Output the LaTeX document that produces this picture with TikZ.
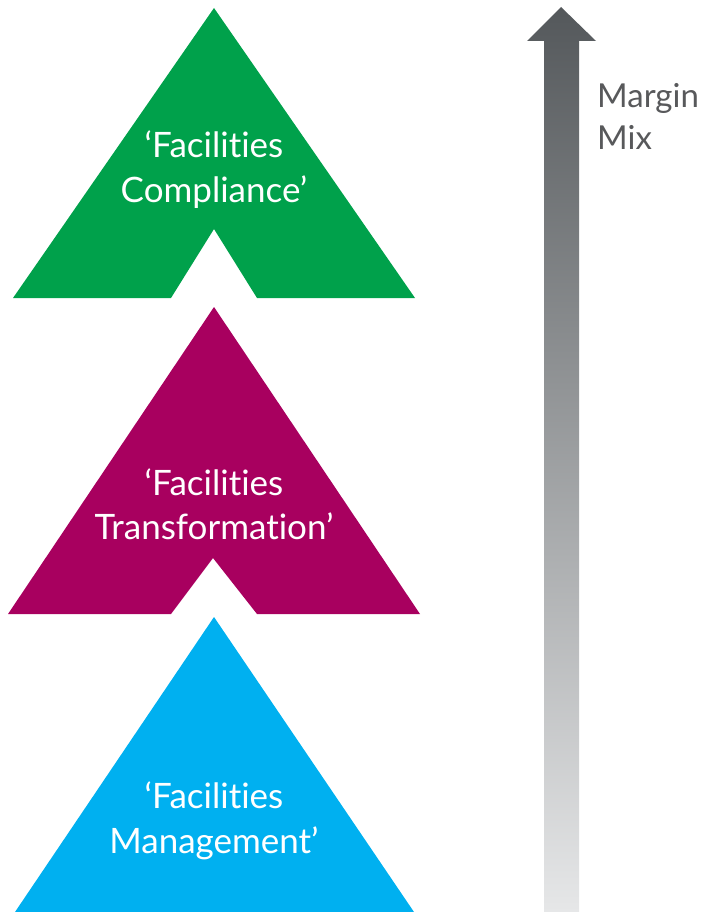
\documentclass[tikz,border=0pt]{standalone}
\usepackage{fontspec}
\setmainfont{Lato}[Ligatures={NoCommon,NoRare}]
\definecolor{tierGreen}{HTML}{00A14B}
\definecolor{tierMagenta}{HTML}{A8005F}
\definecolor{tierBlue}{HTML}{00B0F0}
\definecolor{arrowTop}{HTML}{54585B}
\definecolor{arrowBottom}{HTML}{E6E7E8}
\definecolor{labelGray}{HTML}{58595B}
\begin{document}
\begin{tikzpicture}[x=1pt,y=-1pt,
  tierlabel/.style={text=white,anchor=base,inner sep=0pt,font=\fontsize{35}{42}\selectfont},
  sidelabel/.style={text=labelGray,anchor=base west,inner sep=0pt,font=\fontsize{33}{40}\selectfont}]
\useasboundingbox (0,0) rectangle (703,912);

% top tier: notched triangle
\fill[tierGreen] (214,8) -- (415,298) -- (257,298) -- (214,229) -- (171,298) -- (13,298) -- cycle;
% middle tier: notched triangle
\fill[tierMagenta] (214,307) -- (420,614) -- (257,614) -- (213,558) -- (171,614) -- (8,614) -- cycle;
% bottom tier: plain triangle
\fill[tierBlue] (214,617) -- (414,912) -- (15,912) -- cycle;

\node[tierlabel] (c1) at (214,158) {‘Facilities};
\node[tierlabel] (c2) at (214,202) {Compliance’};
\node[tierlabel] (t1) at (214,495) {‘Facilities};
\node[tierlabel] (t2) at (214,539) {Transformation’};
\node[tierlabel] (m1) at (214,808) {‘Facilities};
\node[tierlabel] (m2) at (214,853) {Management’};

% shaded upward arrow
\shade[top color=arrowTop,bottom color=arrowBottom]
  (561,7) -- (596,41) -- (579,41) -- (579,912) -- (544,912) -- (544,41) -- (527,41) -- cycle;

\node[sidelabel] (mg) at (597,108) {Margin};
\node[sidelabel] (mx) at (597,150) {Mix};
\end{tikzpicture}
\end{document}
